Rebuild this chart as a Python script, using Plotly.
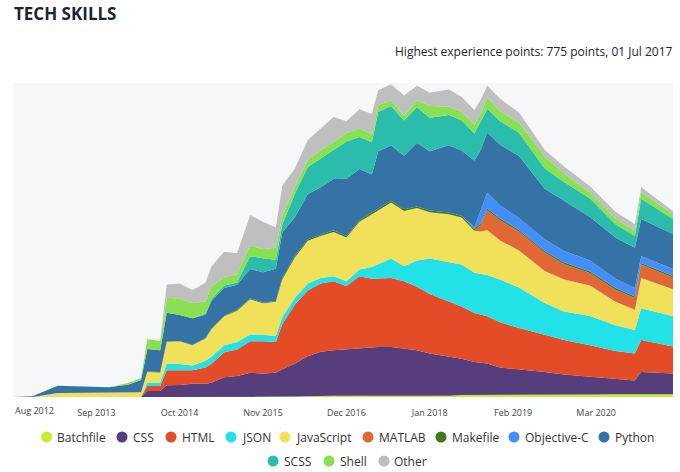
import plotly.graph_objects as go

dates = ["2012-08-01", "2012-11-01", "2013-03-01", "2013-11-01", "2014-02-01", "2014-04-01",
         "2014-05-01", "2014-07-01", "2014-08-01", "2014-10-01", "2014-12-01", "2015-02-01",
         "2015-03-01", "2015-05-01", "2015-07-01", "2015-09-01", "2015-11-01", "2016-01-01",
         "2016-02-01", "2016-04-01", "2016-06-01", "2016-08-01", "2016-10-01", "2016-12-01",
         "2017-02-01", "2017-04-01", "2017-05-01", "2017-07-01", "2017-09-01", "2017-11-01",
         "2018-01-01", "2018-04-01", "2018-06-01", "2018-08-01", "2018-09-01", "2018-10-01",
         "2018-12-01", "2019-03-01", "2019-07-01", "2019-10-01", "2020-02-01", "2020-06-01",
         "2020-09-01", "2020-10-01", "2021-03-01"]

batchfile = [0, 0, 0, 0, 0, 0, 0, 0, 0, 0, 0, 0, 0, 0, 0, 0, 0, 0,
             1, 1, 2, 3, 3, 3, 3, 3, 3, 3, 3, 3, 3, 3, 5, 5, 5, 5, 5, 5, 5, 5, 6, 7, 7, 7, 7]
css = [0, 0, 0, 0, 0, 0, 15, 15, 29, 30, 33, 33, 35, 49, 52, 60, 58, 60,
       68, 82, 99, 109, 113, 115, 117, 120, 121, 121, 117, 113, 105, 98, 90, 82, 80, 78,
       68, 64, 57, 51, 44, 37, 34, 55, 51]
html = [0, 0, 0, 0, 0, 0, 12, 12, 37, 36, 33, 40, 47, 62, 66, 78, 80, 76,
        112, 146, 163, 169, 171, 157, 179, 170, 170, 171, 167, 157, 147, 136, 129, 121, 119, 117,
        112, 102, 92, 85, 78, 70, 67, 79, 67]
json_ = [0, 0, 0, 0, 0, 0, 9, 9, 17, 16, 12, 17, 18, 17, 18, 17, 16, 15,
         18, 17, 17, 14, 12, 12, 17, 29, 35, 48, 37, 65, 88, 97, 104, 100, 100, 102,
         106, 100, 79, 71, 73, 64, 58, 79, 75]
javascript = [0, 0, 10, 11, 11, 12, 26, 25, 54, 56, 50, 55, 68, 72, 78, 87, 78, 85,
              93, 100, 106, 104, 110, 108, 118, 132, 133, 139, 137, 130, 115, 119, 117, 104, 106, 111,
              97, 92, 79, 79, 75, 58, 50, 75, 67]
matlab = [0, 0, 0, 0, 0, 0, 0, 0, 0, 0, 0, 0, 0, 0, 0, 0, 0, 0,
          0, 0, 0, 0, 0, 0, 0, 0, 0, 0, 0, 0, 0, 0, 0, 0, 17, 50,
          50, 47, 46, 38, 31, 30, 29, 33, 29]
makefile = [0, 0, 0, 0, 0, 0, 1, 1, 1, 1, 1, 1, 2, 2, 2, 2, 2, 2,
            4, 4, 4, 4, 4, 4, 4, 4, 4, 4, 4, 4, 4, 4, 4, 4, 4, 4,
            4, 4, 4, 4, 4, 4, 4, 4, 4]
objective_c = [0, 0, 0, 0, 0, 0, 0, 0, 0, 0, 0, 0, 0, 0, 0, 0, 0, 0,
               0, 0, 0, 0, 0, 0, 0, 0, 0, 0, 0, 0, 0, 0, 0, 5, 32, 39,
               33, 29, 29, 29, 27, 23, 21, 17, 17]
python = [0, 2, 18, 13, 20, 30, 56, 54, 71, 64, 66, 58, 68, 68, 62, 73, 75, 80,
          112, 96, 112, 117, 127, 142, 127, 93, 143, 137, 133, 158, 147, 167, 162, 165, 150, 150,
          150, 154, 125, 125, 108, 102, 100, 92, 87]
scss = [0, 0, 0, 0, 0, 0, 0, 0, 0, 0, 0, 2, 4, 6, 6, 32, 35, 22,
        20, 58, 67, 71, 71, 92, 79, 80, 97, 98, 87, 88, 83, 75, 75, 67, 71, 58,
        58, 58, 50, 46, 46, 33, 29, 50, 37]
shell = [0, 0, 0, 0, 4, 5, 25, 23, 37, 41, 37, 31, 32, 20, 20, 27, 22, 30,
         21, 17, 17, 21, 21, 21, 21, 20, 17, 14, 12, 18, 29, 21, 21, 21, 21, 29,
         25, 25, 29, 21, 15, 14, 12, 17, 12]
other = [0, 0, 0, 0, 0, 0, 0, 0, 33, 37, 33, 46, 50, 64, 52, 75, 68, 50,
         75, 46, 50, 54, 62, 29, 48, 50, 37, 40, 50, 35, 33, 42, 37, 37, 33, 29,
         31, 25, 17, 17, 15, 17, 17, 12, 8]

series_names = ["Batchfile", "CSS", "HTML", "JSON", "JavaScript", "MATLAB", "Makefile",
                "Objective-C", "Python", "SCSS", "Shell", "Other"]
series_values = [batchfile, css, html, json_, javascript, matlab, makefile,
                 objective_c, python, scss, shell, other]
series_colors = ["#c1f12e", "#563d7c", "#e34c26", "#22e2e8", "#f1e05a", "#e16737", "#427819",
                 "#438eff", "#3572a5", "#2bbdab", "#89e051", "#bfbfbf"]

tick_vals = ["2013-09-01", "2014-10-01", "2015-11-01", "2016-12-01", "2018-01-01",
             "2019-02-01", "2020-03-01"]
tick_text = ["Sep 2013", "Oct 2014", "Nov 2015", "Dec 2016", "Jan 2018", "Feb 2019", "Mar 2020"]
first_tick_val = "2012-08-01"
first_tick_text = "Aug 2012"

title_text = "TECH SKILLS"
subtitle_text = "Highest experience points: 775 points, 01 Jul 2017"

FONT = "Open Sans, sans-serif"
W, H = 680, 472
ML, MR, MT, MB = 13, 7, 83, 75
PW, PH = W - ML - MR, H - MT - MB


def px_to_paper_x(px):
    return (px - ML) / PW


def px_to_paper_y(py):
    return (H - MB - py) / PH


fig = go.Figure()
for name, vals, col in zip(series_names, series_values, series_colors):
    fig.add_trace(go.Scatter(
        x=dates, y=vals, name=name, mode="lines", stackgroup="one",
        line=dict(width=0, color=col), fillcolor=col, showlegend=False,
        hoverinfo="skip"))

# custom legend (dots + labels)
legend_rows = [
    (437, [46.6, 122, 171, 231, 285, 368, 441, 514, 604], series_names[:9], series_colors[:9]),
    (461, [273, 329, 384], series_names[9:], series_colors[9:]),
]
shapes = []
annotations = []
for py, centers, names, cols in legend_rows:
    for cx, nm, cl in zip(centers, names, cols):
        shapes.append(dict(type="circle", xref="paper", yref="paper",
                           xsizemode="pixel", ysizemode="pixel",
                           xanchor=px_to_paper_x(cx), yanchor=px_to_paper_y(py),
                           x0=-5.5, x1=5.5, y0=-5.5, y1=5.5,
                           fillcolor=cl, line=dict(width=0)))
        annotations.append(dict(text=nm, xref="paper", yref="paper",
                                x=px_to_paper_x(cx + 8.5), y=px_to_paper_y(py),
                                xanchor="left", yanchor="middle", showarrow=False,
                                font=dict(family=FONT, size=12, color="#333333")))

annotations.append(dict(text=subtitle_text, xref="paper", yref="paper",
                        x=1, xshift=2, y=px_to_paper_y(52), xanchor="right", yanchor="middle",
                        showarrow=False, font=dict(family=FONT, size=12, color="#1c2433")))
annotations.append(dict(text=first_tick_text, xref="x", yref="paper",
                        x=first_tick_val, y=0, yshift=-13, xanchor="left", yanchor="middle",
                        showarrow=False, font=dict(family=FONT, size=9, color="#444444")))

fig.update_layout(
    width=W, height=H,
    margin=dict(l=ML, r=MR, t=MT, b=MB, pad=0),
    paper_bgcolor="white",
    plot_bgcolor="#f6f7f9",
    title=dict(text="<b>" + title_text + "</b>", x=14 / W, xanchor="left",
               y=1 - 14 / H, yanchor="middle", font=dict(family=FONT, size=17, color="#1c2433")),
    font=dict(family=FONT),
    xaxis=dict(type="date", range=[dates[0], dates[-1]], tickvals=tick_vals, ticktext=tick_text,
               showgrid=False, zeroline=False, showline=False,
               ticks="outside", ticklen=7, tickcolor="rgba(0,0,0,0)",
               tickfont=dict(family=FONT, size=9, color="#444444"), fixedrange=True),
    yaxis=dict(visible=False, range=[0, 778], fixedrange=True),
    shapes=shapes,
    annotations=annotations,
    hovermode=False,
)

fig.write_html("out.html", config={"displayModeBar": False, "staticPlot": True},
               post_script="document.body.style.margin='0';document.body.style.padding='0';")
